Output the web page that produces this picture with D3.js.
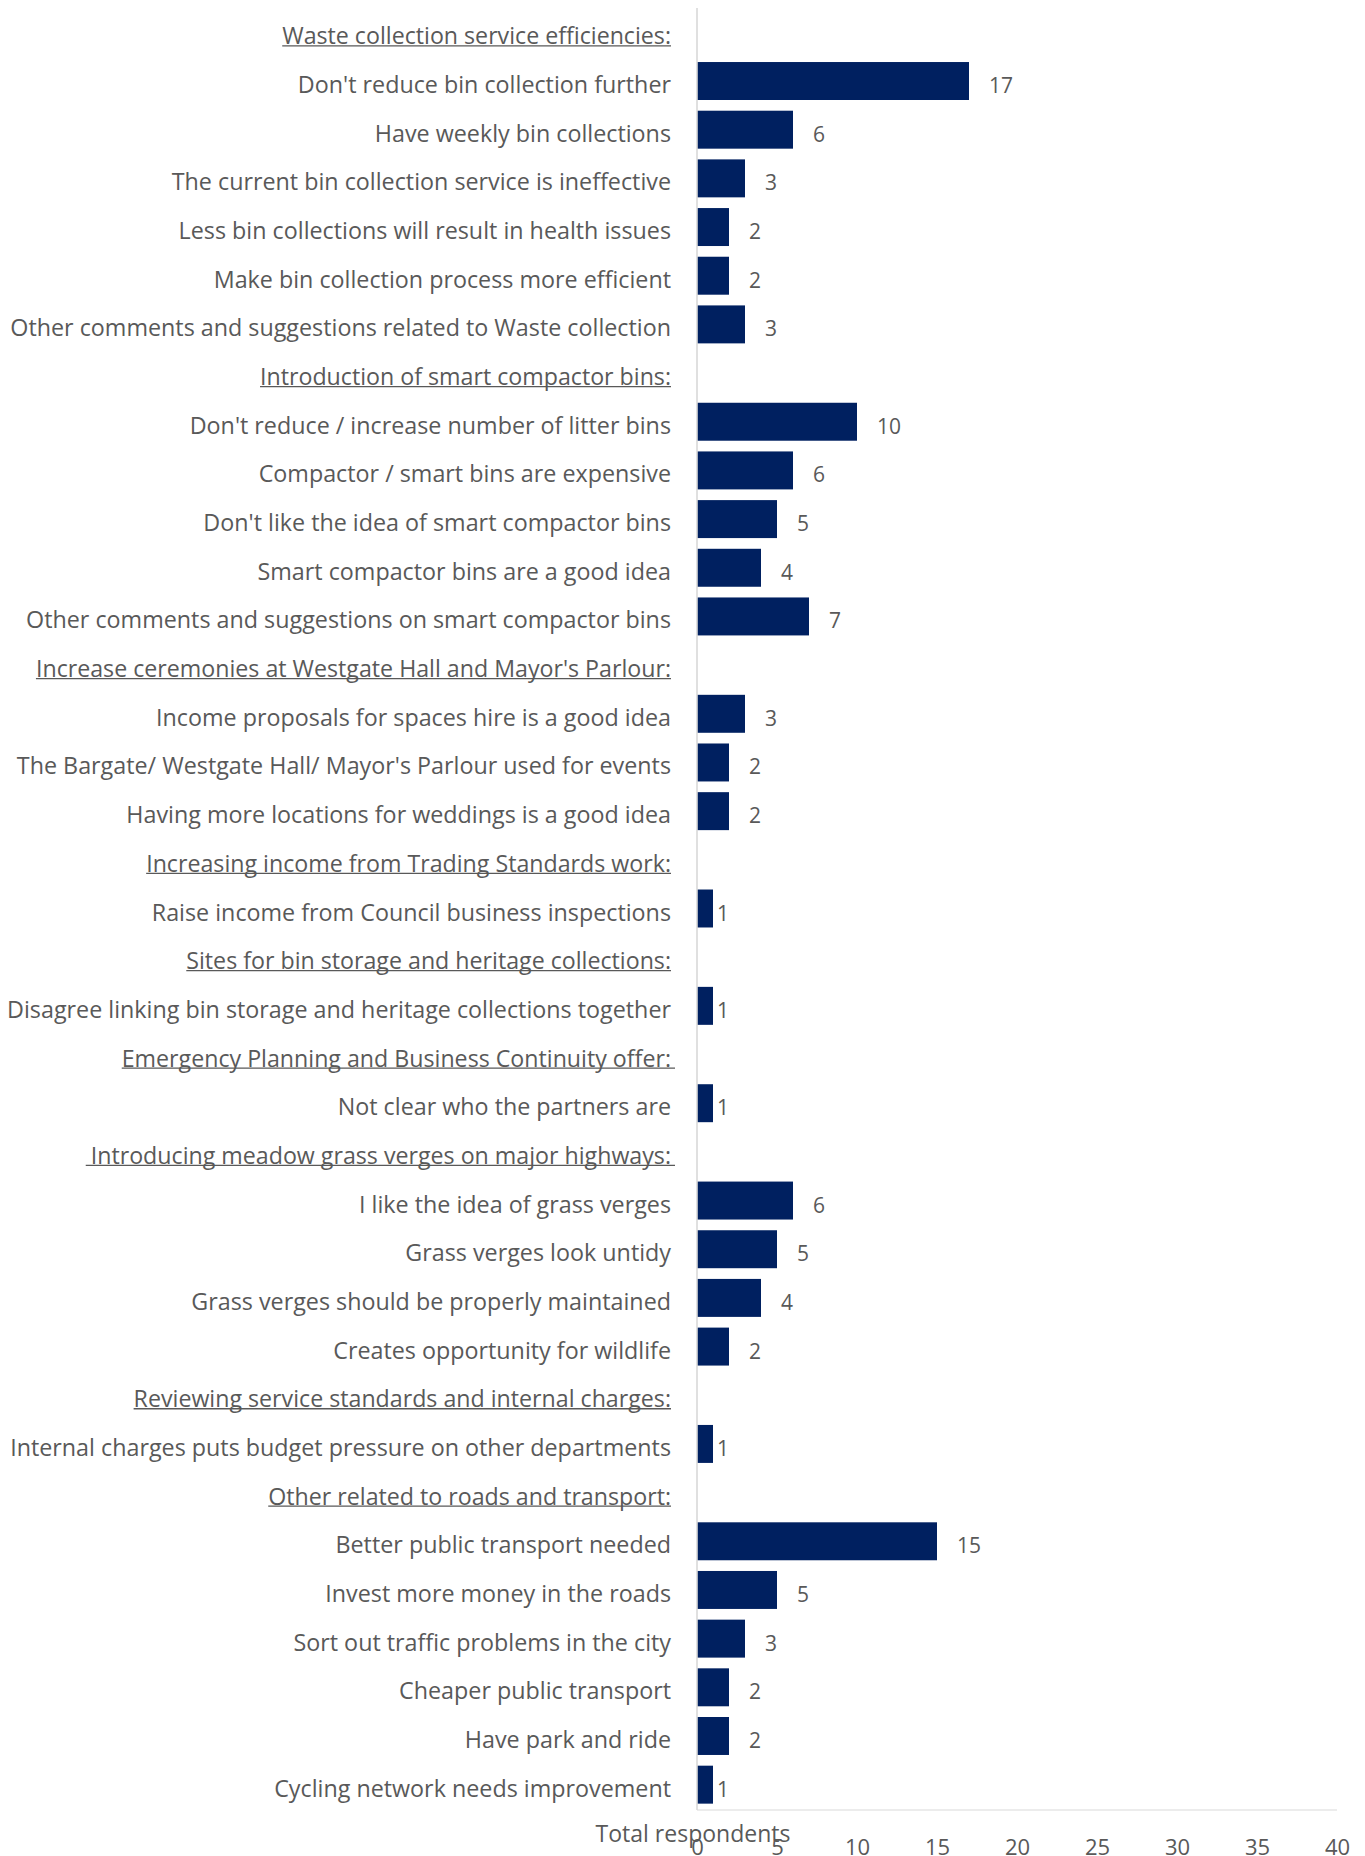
<!DOCTYPE html>
<html>
<head>
<meta charset="utf-8">
<script src="https://cdn.jsdelivr.net/npm/d3@7"></script>
<style>
  html, body { margin: 0; padding: 0; background: #fff; }
  svg text { font-family: "Open Sans", sans-serif; fill: #595959; }
</style>
</head>
<body>
<svg id="chart" width="1365" height="1856"></svg>
<script>
// Rows of the chart, top to bottom. Section headings have no value.
const categories = [
  "Waste collection service efficiencies:",
  "Don't reduce bin collection further",
  "Have weekly bin collections",
  "The current bin collection service is ineffective",
  "Less bin collections will result in health issues",
  "Make bin collection process more efficient",
  "Other comments and suggestions related to Waste collection",
  "Introduction of smart compactor bins:",
  "Don't reduce / increase number of litter bins",
  "Compactor / smart bins are expensive",
  "Don't like the idea of smart compactor bins",
  "Smart compactor bins are a good idea",
  "Other comments and suggestions on smart compactor bins",
  "Increase ceremonies at Westgate Hall and Mayor's Parlour:",
  "Income proposals for spaces hire is a good idea",
  "The Bargate/ Westgate Hall/ Mayor's Parlour used for events",
  "Having more locations for weddings is a good idea",
  "Increasing income from Trading Standards work:",
  "Raise income from Council business inspections",
  "Sites for bin storage and heritage collections:",
  "Disagree linking bin storage and heritage collections together",
  "Emergency Planning and Business Continuity offer:",
  "Not clear who the partners are",
  "Introducing meadow grass verges on major highways:",
  "I like the idea of grass verges",
  "Grass verges look untidy",
  "Grass verges should be properly maintained",
  "Creates opportunity for wildlife",
  "Reviewing service standards and internal charges:",
  "Internal charges puts budget pressure on other departments",
  "Other related to roads and transport:",
  "Better public transport needed",
  "Invest more money in the roads",
  "Sort out traffic problems in the city",
  "Cheaper public transport",
  "Have park and ride",
  "Cycling network needs improvement"
];

// Number of respondents per row (null = section heading)
const values = [
  null, 17, 6, 3, 2, 2, 3,
  null, 10, 6, 5, 4, 7,
  null, 3, 2, 2,
  null, 1,
  null, 1,
  null, 1,
  null, 6, 5, 4, 2,
  null, 1,
  null, 15, 5, 3, 2, 2, 1
];

// Extra underline reach at the start / end of some headings
const headingLead  = { "Introducing meadow grass verges on major highways:": 5 };
const headingTrail = { "Introducing meadow grass verges on major highways:": 4,
                       "Emergency Planning and Business Continuity offer:": 4 };

const xTicks = [0, 5, 10, 15, 20, 25, 30, 35, 40];
const axisTitle = "Total respondents";

const svg = d3.select("#chart");
const plotLeft = 697, plotRight = 1337, plotTop = 8, plotBottom = 1810;

const x = d3.scaleLinear().domain([0, 40]).range([plotLeft, plotRight]);
const y = d3.scaleBand()
  .domain(d3.range(categories.length))
  .range([plotTop, plotBottom - 1])
  .paddingInner(0.22)
  .paddingOuter(0.11);

const rows = categories.map((c, i) => ({ i, label: c, value: values[i], heading: values[i] === null }));

// Bars
svg.append("g").selectAll("rect")
  .data(rows.filter(d => !d.heading))
  .join("rect")
  .attr("x", x(0))
  .attr("y", d => y(d.i))
  .attr("width", d => x(d.value) - x(0))
  .attr("height", y.bandwidth())
  .attr("fill", "#002060");

// Axis lines
svg.append("line")
  .attr("x1", plotLeft).attr("x2", plotRight)
  .attr("y1", plotBottom).attr("y2", plotBottom)
  .attr("stroke", "#d9d9d9").attr("stroke-width", 1.2);
svg.append("line")
  .attr("x1", plotLeft).attr("x2", plotLeft)
  .attr("y1", plotTop).attr("y2", plotBottom)
  .attr("stroke", "#d9d9d9").attr("stroke-width", 1.6);

// Category labels
const labelX = 671;
const lab = svg.append("g").selectAll("text")
  .data(rows)
  .join("text")
  .attr("x", labelX)
  .attr("y", d => y(d.i) + y.bandwidth() / 2 + 12)
  .attr("text-anchor", "end")
  .attr("font-size", d => d.heading ? 23.2 : 23.3)
  .text(d => d.label);

// Underline the section headings
lab.filter(d => d.heading).each(function(d) {
  const w = this.getComputedTextLength();
  const yy = y(d.i) + y.bandwidth() / 2 + 13.5;
  svg.append("line")
    .attr("x1", labelX - w - (headingLead[d.label] || 0))
    .attr("x2", labelX + (headingTrail[d.label] || 0))
    .attr("y1", yy).attr("y2", yy)
    .attr("stroke", "#595959").attr("stroke-width", 1.3);
});

// Value labels
svg.append("g").selectAll("text")
  .data(rows.filter(d => !d.heading))
  .join("text")
  .attr("x", d => x(d.value) + (d.value === 1 ? 4 : 20))
  .attr("y", d => y(d.i) + y.bandwidth() / 2 + 12)
  .attr("font-size", 21)
  .text(d => d.value);

// X tick labels
const xAxis = d3.axisBottom(x).tickValues(xTicks).tickSize(0).tickPadding(0);
const gx = svg.append("g")
  .attr("transform", `translate(0,${plotBottom})`)
  .call(xAxis);
gx.select(".domain").remove();
gx.selectAll("text")
  .attr("font-size", 22)
  .attr("font-family", "Open Sans, sans-serif")
  .attr("fill", "#595959")
  .attr("dy", null)
  .attr("y", 45);

// Axis title
svg.append("text")
  .attr("x", 693)
  .attr("y", 1842)
  .attr("text-anchor", "middle")
  .attr("font-size", 23)
  .text(axisTitle);
</script>
</body>
</html>
